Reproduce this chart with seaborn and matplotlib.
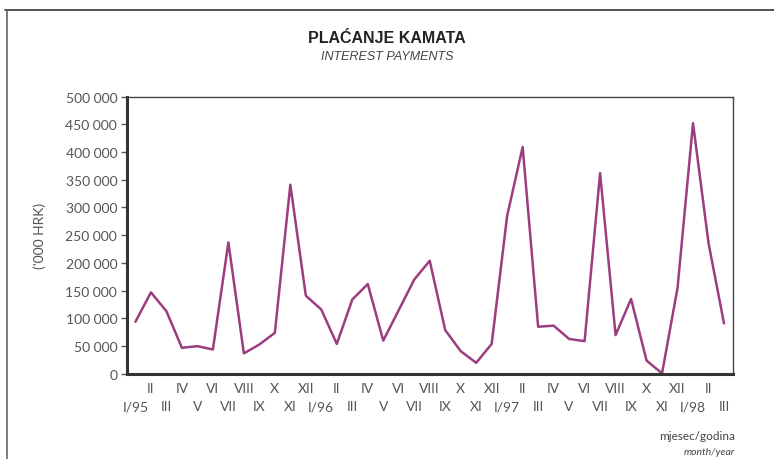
import numpy as np
import pandas as pd
import matplotlib.pyplot as plt
import seaborn as sns
from matplotlib.lines import Line2D

# Podaci (mjesečno, I/95 - III/98)
months = ["I", "II", "III", "IV", "V", "VI", "VII", "VIII", "IX", "X", "XI", "XII"]
years = ["95", "96", "97", "98"]
payments = [
    94000, 147000, 113000, 47000, 50000, 44000, 237000, 37000, 53000, 74000, 341000, 141000,
    116000, 54000, 134000, 162000, 60000, 115000, 170000, 204000, 79000, 41000, 20000, 54000,
    285000, 409000, 85000, 87000, 63000, 59000, 362000, 70000, 135000, 24000, 1000, 155000,
    452000, 236000, 91000,
]

labels = []
for i in range(len(payments)):
    m = months[i % 12]
    if m == "I":
        m = "I/" + years[i // 12]
    labels.append(m)

df = pd.DataFrame({"idx": np.arange(len(payments)), "value": payments})

sns.set_style("white")
plt.rcParams["font.family"] = ["Lato", "DejaVu Sans"]

fig = plt.figure(figsize=(7.74, 4.6), dpi=100)
ax = fig.add_axes([0.164, 0.185, 0.783, 0.603])

sns.lineplot(data=df, x="idx", y="value", ax=ax, color="#9c3d80", linewidth=1.8)

ax.set_xlim(-0.55, len(payments) - 1 + 0.58)
ax.set_ylim(0, 500000)
yt = np.arange(0, 500001, 50000)
ax.set_yticks(yt)
ax.set_yticklabels([f"{v:,}".replace(",", " ") for v in yt], fontsize=10, color="#555555")

# neparni mjeseci (I, III, ...) u donjem redu, parni u gornjem
lower = df["idx"][::2]
upper = df["idx"][1::2]
ax.set_xticks(lower)
ax.set_xticklabels([labels[i] for i in lower], fontsize=10, color="#555555")
ax.set_xticks(upper, minor=True)
ax.set_xticklabels([labels[i] for i in upper], minor=True, fontsize=10, color="#555555")
ax.tick_params(axis="x", which="major", length=0, pad=19)
ax.tick_params(axis="x", which="minor", length=0, pad=6)
ax.tick_params(axis="y", length=4, width=1, color="#555555", pad=3, left=True)

for s in ["top", "right"]:
    ax.spines[s].set_linewidth(1)
    ax.spines[s].set_color("#444444")
for s in ["bottom", "left"]:
    ax.spines[s].set_linewidth(2.2)
    ax.spines[s].set_color("#333333")

ax.set_xlabel("")
ax.set_ylabel("('000 HRK)", fontsize=10, color="#555555", labelpad=14)

fig.text(0.5, 0.916, "PLAĆANJE KAMATA", ha="center", va="center", fontsize=11.5,
         fontweight="bold", color="#222222", family=["Liberation Sans", "DejaVu Sans"])
fig.text(0.5, 0.875, "INTEREST PAYMENTS", ha="center", va="center", fontsize=9,
         style="italic", color="#444444", family=["Liberation Sans", "DejaVu Sans"])

fig.text(0.95, 0.05, "mjesec/godina", ha="right", va="center", fontsize=8.5, color="#444444")
fig.text(0.95, 0.017, "month/year", ha="right", va="center", fontsize=7.5,
         style="italic", color="#444444")

# okvir
fig.add_artist(Line2D([0.007, 1.0], [0.976, 0.976], transform=fig.transFigure,
                      color="#333333", linewidth=1.2))
fig.add_artist(Line2D([0.009, 0.009], [0.0, 0.976], transform=fig.transFigure,
                      color="#666666", linewidth=1.2))

fig.savefig("out.png", dpi=100)
